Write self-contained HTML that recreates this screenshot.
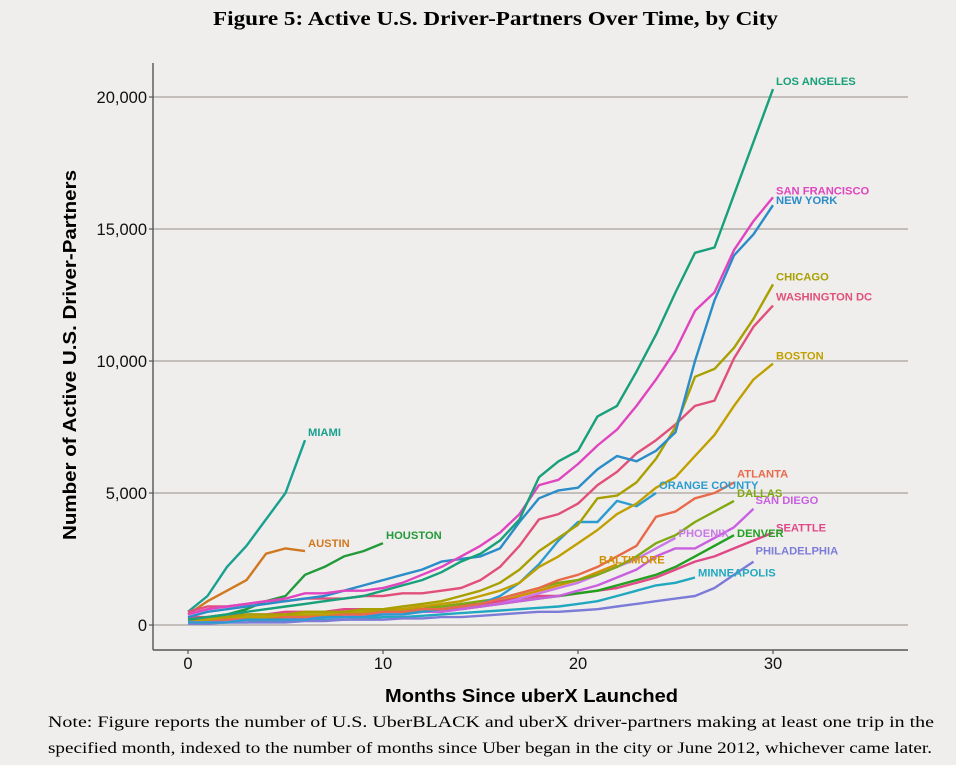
<!DOCTYPE html>
<html><head><meta charset="utf-8">
<style>
html,body{margin:0;padding:0;background:#f0eeec;}
body{width:956px;height:765px;overflow:hidden;position:relative;}
.t{font-family:"Liberation Sans",sans-serif;}
</style></head>
<body>
<svg id="chart" width="956" height="765" xmlns="http://www.w3.org/2000/svg" style="position:absolute;left:0;top:0">
<rect width="956" height="765" fill="#f0eeec"/>
<text x="213" y="25" font-family="Liberation Serif,serif" font-weight="bold" font-size="20" textLength="565" lengthAdjust="spacingAndGlyphs">Figure 5: Active U.S. Driver-Partners Over Time, by City</text>
<g id="grid"></g>
<g id="axes"></g>
<g id="lines"></g>
<g id="labels"></g>
<text transform="translate(76,355) rotate(-90)" text-anchor="middle" class="t" font-weight="bold" font-size="18" textLength="370" lengthAdjust="spacingAndGlyphs">Number of Active U.S. Driver-Partners</text>
<text x="385" y="702" class="t" font-weight="bold" font-size="18" textLength="293" lengthAdjust="spacingAndGlyphs">Months Since uberX Launched</text>
<text x="48" y="727" font-family="Liberation Serif,serif" font-size="16" textLength="886" lengthAdjust="spacingAndGlyphs">Note: Figure reports the number of U.S. UberBLACK and uberX driver-partners making at least one trip in the</text>
<text x="48" y="753" font-family="Liberation Serif,serif" font-size="16" textLength="884" lengthAdjust="spacingAndGlyphs">specified month, indexed to the number of months since Uber began in the city or June 2012, whichever came later.</text>
</svg>
<script>
const xTicks=[0,10,20,30];
const yTicks=[0,5000,10000,15000,20000];
const yTickLabels=["0","5,000","10,000","15,000","20,000"];
const cities=["LOS ANGELES","SAN FRANCISCO","NEW YORK","CHICAGO","WASHINGTON DC","BOSTON","ATLANTA","ORANGE COUNTY","DALLAS","SAN DIEGO","PHOENIX","DENVER","SEATTLE","BALTIMORE","PHILADELPHIA","MINNEAPOLIS","MIAMI","AUSTIN","HOUSTON"];
const losAngeles=[0.2,0.3,0.4,0.5,0.6,0.7,0.8,0.9,1.0,1.1,1.3,1.5,1.7,2.0,2.4,2.7,3.2,4.0,5.6,6.2,6.6,7.9,8.3,9.6,11,12.6,14.1,14.3,16.3,18.3,20.3];
const sanFrancisco=[0.4,0.6,0.7,0.8,0.9,1.0,1.2,1.2,1.3,1.3,1.4,1.6,1.9,2.2,2.6,3.0,3.5,4.2,5.3,5.5,6.1,6.8,7.4,8.3,9.3,10.4,11.9,12.6,14.2,15.3,16.2];
const newYork=[0.3,0.5,0.6,0.7,0.8,0.9,1.0,1.1,1.3,1.5,1.7,1.9,2.1,2.4,2.5,2.6,2.9,3.9,4.8,5.1,5.2,5.9,6.4,6.2,6.6,7.3,10.0,12.3,14.0,14.8,15.9];
const chicago=[0.2,0.3,0.3,0.4,0.4,0.4,0.5,0.5,0.5,0.6,0.6,0.7,0.8,0.9,1.1,1.3,1.6,2.1,2.8,3.3,3.8,4.8,4.9,5.4,6.3,7.5,9.4,9.7,10.5,11.6,12.9];
const washingtonDC=[0.5,0.7,0.7,0.8,0.9,0.9,1.0,1.0,1.0,1.1,1.1,1.2,1.2,1.3,1.4,1.7,2.2,3.0,4.0,4.2,4.6,5.3,5.8,6.5,7.0,7.6,8.3,8.5,10.1,11.3,12.1];
const boston=[0.2,0.2,0.3,0.3,0.3,0.4,0.4,0.4,0.5,0.5,0.6,0.6,0.7,0.8,0.9,1.1,1.3,1.6,2.2,2.6,3.1,3.6,4.2,4.6,5.2,5.6,6.4,7.2,8.3,9.3,9.9];
const atlanta=[0.2,0.2,0.2,0.3,0.3,0.3,0.3,0.4,0.4,0.4,0.5,0.5,0.6,0.6,0.7,0.8,1.0,1.2,1.4,1.7,1.9,2.2,2.6,3.0,4.1,4.3,4.8,5.0,5.4];
const orangeCounty=[0.1,0.1,0.1,0.2,0.2,0.2,0.2,0.3,0.3,0.3,0.4,0.4,0.5,0.6,0.7,0.8,1.1,1.6,2.3,3.2,3.9,3.9,4.7,4.5,5.0];
const dallas=[0.2,0.2,0.3,0.3,0.3,0.3,0.4,0.4,0.4,0.5,0.5,0.6,0.6,0.7,0.8,0.9,1.0,1.2,1.4,1.6,1.7,1.9,2.2,2.6,3.1,3.4,3.9,4.3,4.7];
const sanDiego=[0.1,0.1,0.2,0.2,0.2,0.2,0.3,0.3,0.3,0.4,0.4,0.4,0.5,0.5,0.6,0.7,0.8,0.9,1.0,1.1,1.3,1.5,1.8,2.1,2.6,2.9,2.9,3.3,3.7,4.4];
const phoenix=[0.1,0.1,0.1,0.2,0.2,0.2,0.2,0.3,0.3,0.3,0.4,0.4,0.5,0.5,0.6,0.7,0.8,1.0,1.2,1.4,1.6,1.9,2.2,2.5,2.9,3.3];
const denver=[0.2,0.2,0.2,0.3,0.3,0.3,0.3,0.4,0.4,0.4,0.5,0.5,0.5,0.6,0.6,0.7,0.8,0.9,1.0,1.1,1.2,1.3,1.5,1.7,1.9,2.2,2.6,3.0,3.4];
const seattle=[0.3,0.3,0.4,0.4,0.4,0.5,0.5,0.5,0.6,0.6,0.6,0.6,0.7,0.7,0.8,0.8,0.9,1.0,1.1,1.1,1.2,1.3,1.4,1.6,1.8,2.1,2.4,2.6,2.9,3.2,3.5];
const baltimore=[0.1,0.1,0.2,0.2,0.2,0.3,0.3,0.3,0.4,0.4,0.5,0.5,0.6,0.6,0.7,0.8,0.9,1.1,1.3,1.5,1.7,2.0,2.3];
const philadelphia=[0.05,0.05,0.1,0.1,0.1,0.1,0.15,0.15,0.2,0.2,0.2,0.25,0.25,0.3,0.3,0.35,0.4,0.45,0.5,0.5,0.55,0.6,0.7,0.8,0.9,1.0,1.1,1.4,1.9,2.4];
const minneapolis=[0.1,0.1,0.1,0.1,0.15,0.15,0.2,0.2,0.2,0.25,0.3,0.3,0.35,0.4,0.45,0.5,0.55,0.6,0.65,0.7,0.8,0.9,1.1,1.3,1.5,1.6,1.8];
const miami=[0.5,1.1,2.2,3.0,4.0,5.0,7.0];
const austin=[0.4,0.9,1.3,1.7,2.7,2.9,2.8];
const houston=[0.2,0.3,0.4,0.6,0.9,1.1,1.9,2.2,2.6,2.8,3.1];

const seriesList=[losAngeles,sanFrancisco,newYork,chicago,washingtonDC,boston,atlanta,orangeCounty,dallas,sanDiego,phoenix,denver,seattle,baltimore,philadelphia,minneapolis,miami,austin,houston];
const colors=["#17a07a","#e045c0","#2a8cc8","#a8a000","#e0507a","#c0a000","#e86a4a","#2a9cd0","#80a810","#c860e0","#c878e8","#22a020","#e04888","#d09000","#7c7cd8","#20a8c0","#18a090","#d07820","#22993a"];
const labelDy=[-4,-3,-1,-4,-5,-4,-5,-4,-4,-5,-1,2,-1,-1,-7,-1,-4,-4,-4];
const labelDx=[3,3,3,3,3,3,3,3,3,2,3,3,3,-18,2,3,3,3,3];

const L=153,R=908,T=63,B=650;
function xs(m){return 188+m*19.5;}
function ys(v){return 625-v*0.0264;}
const NS="http://www.w3.org/2000/svg";
function mk(tag,attrs,parent){const e=document.createElementNS(NS,tag);for(const k in attrs)e.setAttribute(k,attrs[k]);parent.appendChild(e);return e;}
const grid=document.getElementById('grid'),axes=document.getElementById('axes'),lines=document.getElementById('lines'),labels=document.getElementById('labels');
yTicks.forEach((v,i)=>{
  const g=mk('line',{x1:L,x2:R,y1:ys(v),y2:ys(v),stroke:'#a8a29c','stroke-width':1.2},grid);
  
  
  const tk=mk('line',{x1:L-4,x2:L,y1:ys(v),y2:ys(v),stroke:'#555','stroke-width':1.2},axes);
  
  
  const t=mk('text',{x:L-6,y:ys(v)+6,'text-anchor':'end','font-family':'Liberation Sans,sans-serif','font-size':16.5,fill:'#111'},axes);
  t.textContent=yTickLabels[i];
  
  
});
xTicks.forEach(m=>{
  const tk=mk('line',{x1:xs(m),x2:xs(m),y1:B,y2:B+4,stroke:'#555','stroke-width':1.2},axes);
  
  
  const t=mk('text',{x:xs(m),y:B+19,'text-anchor':'middle','font-family':'Liberation Sans,sans-serif','font-size':16.5,fill:'#111'},axes);
  t.textContent=String(m);
  
  
});
const ya=mk('line',{x1:L,x2:L,y1:T,y2:B,stroke:'#555','stroke-width':1.4},axes);


const xa=mk('line',{x1:L,x2:R,y1:B,y2:B,stroke:'#555','stroke-width':1.4},axes);


for(let i=seriesList.length-1;i>=0;i--){
  const d=seriesList[i];
  const pts=d.map((v,m)=>xs(m).toFixed(1)+','+ys(v*1000).toFixed(1)).join(' ');
  const p=mk('polyline',{points:pts,fill:'none',stroke:colors[i],'stroke-width':2.4,'stroke-linejoin':'round'},lines);
  
  
  const last=d.length-1;
  const t=mk('text',{x:xs(last)+labelDx[i],y:ys(d[last]*1000)+labelDy[i],'font-family':'Liberation Sans,sans-serif','font-weight':'bold','font-size':11.2,fill:colors[i]},labels);
  t.textContent=cities[i];
  
  
}
</script>
</body></html>
